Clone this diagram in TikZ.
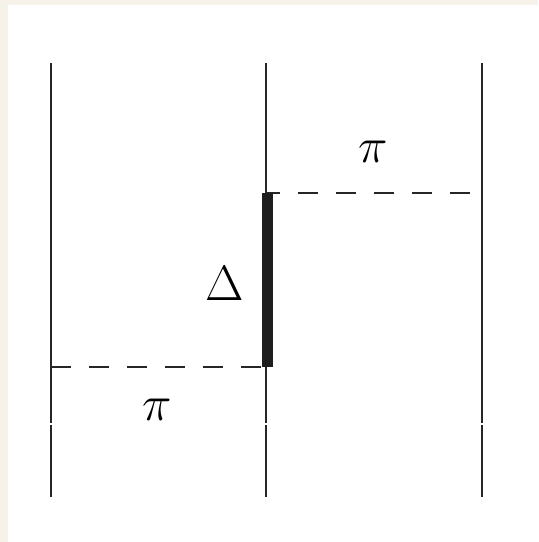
\documentclass[tikz,border=0pt]{standalone}
\usetikzlibrary{positioning}
\definecolor{paper}{RGB}{246,242,233}
\definecolor{ink}{RGB}{38,38,38}
\tikzset{
  wire/.style={draw=ink,line width=1.1pt},
  cut/.style={draw=ink,line width=1.1pt,dash pattern=on 10pt off 9pt},
  defect/.style={draw=ink!80!black,line width=5.5pt},
  sym/.style={font=\fontsize{26}{30}\selectfont,inner sep=0pt},
}
\begin{document}
\begin{tikzpicture}[x=0.5pt,y=-0.5pt]
  % page
  \fill[paper] (0,0) rectangle (538,542);
  \fill[white] (8,5) rectangle (538,542);
  \useasboundingbox (0,0) rectangle (538,542);
  % strands, each with a small break near the foot
  \foreach \x/\n in {51/l,266/m,482/r} {
    \coordinate (\n top) at (\x,63);
    \coordinate (\n gapa) at (\x,422.5);
    \coordinate (\n gapb) at (\x,425);
    \coordinate (\n foot) at (\x,497);
    \draw[wire] (\n top) -- (\n gapa);
    \draw[wire] (\n gapb) -- (\n foot);
  }
  \coordinate (m hi) at (266,193);
  \coordinate (m lo) at (266,367);
  \coordinate (r hi) at (482,193);
  \coordinate (l lo) at (51,367);
  % cuts
  \draw[cut] (l lo) -- (m lo);
  \draw[cut,dash phase=3pt] (m hi) -- (r hi);
  % defect
  \draw[defect] ([xshift=0.5]m hi) -- ([xshift=0.5]m lo);
  % labels
  \node[sym] (delta) at (225,283) {$\Delta$};
  \node[sym] (pi up) at (373,152) {$\pi$};
  \node[sym] (pi down) at (157,410) {$\pi$};
\end{tikzpicture}
\end{document}
